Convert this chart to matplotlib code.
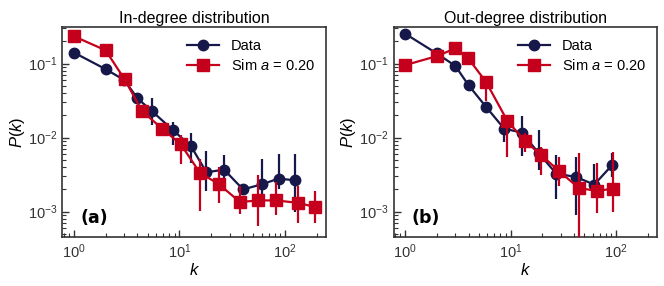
import numpy as np
import matplotlib
matplotlib.use("Agg")
import matplotlib.pyplot as plt

plt.rcParams['font.family'] = ['Liberation Sans', 'DejaVu Sans']
plt.rcParams['mathtext.fontset'] = 'custom'
plt.rcParams['mathtext.rm'] = 'Liberation Sans'
plt.rcParams['mathtext.it'] = 'Liberation Sans:italic'
plt.rcParams['mathtext.bf'] = 'Liberation Sans:bold'

NAVY = '#151848'
RED = '#c4001c'

# --- in-degree ---
in_data_k = [1, 2, 3, 4, 5.5, 8.7, 12.9, 18, 26.4, 40, 60, 87, 124]
in_data_p = [0.141, 0.084, 0.060, 0.034, 0.0227, 0.0126, 0.0076, 0.0034, 0.0037, 0.0020, 0.00234, 0.0028, 0.00265]
in_data_lo = [0.141, 0.084, 0.058, 0.031, 0.0147, 0.0080, 0.0045, 0.0019, 0.0023, 0.0017, 0.0017, 0.0020, 0.0010]
in_data_hi = [0.141, 0.084, 0.062, 0.037, 0.034, 0.0161, 0.0115, 0.0065, 0.0058, 0.0024, 0.0052, 0.0060, 0.0060]

in_sim_k = [1, 2, 3.02, 4.44, 6.87, 10.3, 15.6, 23.7, 37.4, 55.9, 81.5, 131, 191]
in_sim_p = [0.234, 0.151, 0.0614, 0.0227, 0.0132, 0.0081, 0.00336, 0.00234, 0.00135, 0.00142, 0.00142, 0.00132, 0.00116]
in_sim_lo = [0.234, 0.151, 0.060, 0.021, 0.0125, 0.0044, 0.00103, 0.00130, 0.00093, 0.00064, 0.00089, 0.00070, 0.00070]
in_sim_hi = [0.234, 0.151, 0.063, 0.024, 0.0140, 0.0107, 0.0051, 0.0040, 0.0022, 0.0031, 0.0025, 0.0022, 0.0019]

# --- out-degree ---
out_data_k = [1, 2, 3, 4, 5.86, 8.7, 12.8, 18.4, 27, 41.8, 61.9, 91]
out_data_p = [0.254, 0.137, 0.093, 0.051, 0.026, 0.0132, 0.0117, 0.0062, 0.00327, 0.00294, 0.00232, 0.00423]
out_data_lo = [0.254, 0.137, 0.093, 0.051, 0.026, 0.0086, 0.0057, 0.0036, 0.0015, 0.00091, 0.00159, 0.0029]
out_data_hi = [0.254, 0.137, 0.093, 0.051, 0.026, 0.0176, 0.0195, 0.0127, 0.0059, 0.0054, 0.0044, 0.0062]

out_sim_k = [1, 2, 3, 3.93, 5.86, 9.33, 13.7, 19.5, 29, 44, 65.6, 93]
out_sim_p = [0.095, 0.126, 0.16, 0.12, 0.0565, 0.0168, 0.0090, 0.0058, 0.0035, 0.0021, 0.0019, 0.00205]
out_sim_lo = [0.095, 0.126, 0.155, 0.118, 0.0310, 0.0055, 0.0063, 0.0031, 0.0022, 0.00030, 0.00095, 0.00100]
out_sim_hi = [0.095, 0.126, 0.165, 0.122, 0.0650, 0.0192, 0.0114, 0.0075, 0.0055, 0.0062, 0.0045, 0.0064]


def yerr(p, lo, hi):
    p, lo, hi = np.array(p), np.array(lo), np.array(hi)
    return [p - lo, hi - p]


def draw(ax, dk, dp, dlo, dhi, sk, sp, slo, shi, title, tag):
    # error bars (no legend entry), then lines with markers
    ax.errorbar(dk, dp, yerr=yerr(dp, dlo, dhi), fmt='none', ecolor=NAVY,
                elinewidth=1.6, capsize=0, zorder=2)
    ax.plot(dk, dp, color=NAVY, marker='o', ms=7.5, lw=1.6, label='Data', zorder=3)
    ax.errorbar(sk, sp, yerr=yerr(sp, slo, shi), fmt='none', ecolor=RED,
                elinewidth=1.6, capsize=0, zorder=4)
    ax.plot(sk, sp, color=RED, marker='s', ms=8, lw=1.6, label='Sim $a$ = 0.20', zorder=5)
    ax.set_xscale('log')
    ax.set_yscale('log')
    ax.set_xlim(0.78, 245)
    ax.set_ylim(4.5e-4, 0.31)
    ax.set_title(title, fontsize=11.5, pad=3)
    ax.set_xlabel('$k$', fontsize=12, labelpad=1)
    ax.set_ylabel('$P(k)$', fontsize=12, labelpad=1)
    ax.tick_params(which='both', direction='in', top=False, right=False,
                   labelsize=10.5, colors='#333333')
    ax.tick_params(which='major', length=5, width=1)
    ax.tick_params(which='minor', length=3, width=0.8)
    for s in ax.spines.values():
        s.set_color('#333333')
        s.set_linewidth(1.2)
    ax.text(0.07, 0.07, tag, transform=ax.transAxes, fontsize=12.5,
            fontweight='bold', family='DejaVu Sans')
    ax.legend(loc='upper right', frameon=False, fontsize=10.5, handlelength=2.2,
              borderaxespad=0.4, labelspacing=0.35)


fig, axes = plt.subplots(1, 2, figsize=(6.64, 2.86), dpi=100)
draw(axes[0], in_data_k, in_data_p, in_data_lo, in_data_hi,
     in_sim_k, in_sim_p, in_sim_lo, in_sim_hi, 'In-degree distribution', '(a)')
draw(axes[1], out_data_k, out_data_p, out_data_lo, out_data_hi,
     out_sim_k, out_sim_p, out_sim_lo, out_sim_hi, 'Out-degree distribution', '(b)')
fig.subplots_adjust(left=0.094, right=0.99, top=0.905, bottom=0.17, wspace=0.255)
fig.savefig('out.png')
